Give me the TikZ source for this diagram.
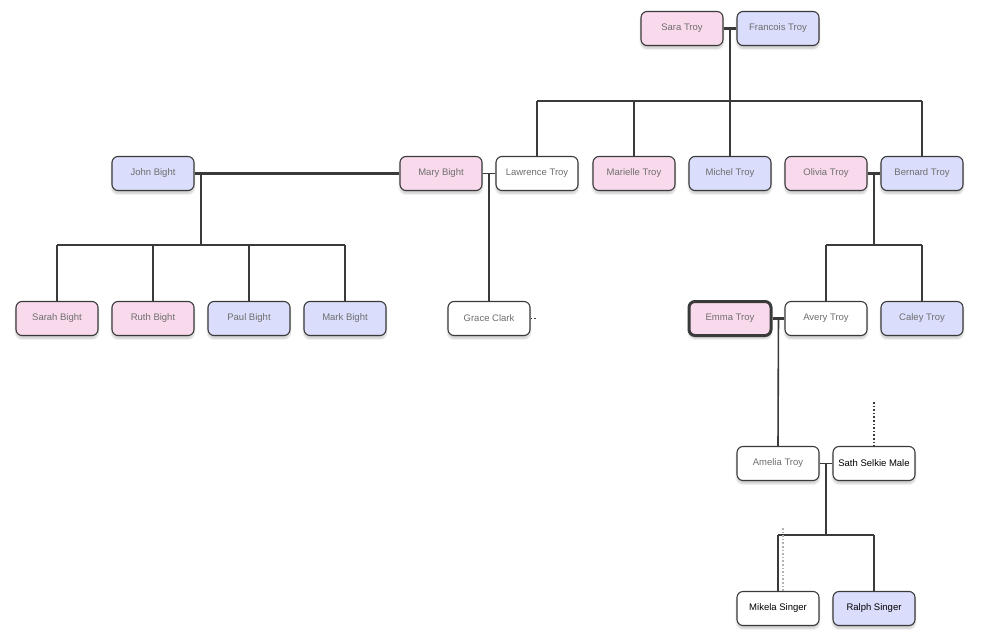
\documentclass[tikz,border=0pt]{standalone}
\usepackage{fontspec}
\setmainfont{Liberation Sans}
\usetikzlibrary{calc, shadows.blur}
\definecolor{pinkfill}{HTML}{F9DAEC}
\definecolor{bluefill}{HTML}{DADDFB}
\definecolor{edgegray}{HTML}{3A3A3A}
\definecolor{textgray}{HTML}{6E6E6E}

\begin{document}
\begin{tikzpicture}[x=1pt, y=-1pt, line join=round, font=\fontsize{9.5}{11}\selectfont,
	person/.style={draw=edgegray, line width=1.1pt, rounded corners=6pt, minimum width=82pt, minimum height=34pt, fill=white, text=textgray,
		blur shadow={shadow xshift=0pt, shadow yshift=-3pt, shadow blur steps=6, shadow opacity=22}},
	female/.style={person, fill=pinkfill},
	male/.style={person, fill=bluefill},
	link/.style={draw=edgegray, line width=1.6pt},
	couple/.style={draw=edgegray, line width=3.2pt},
	hint/.style={draw=edgegray, line width=1.6pt, dotted}]
	\useasboundingbox (0,0) rectangle (1000,642);

	% Thế hệ 1
	\node[female] (sara) at (682,28.5) {Sara Troy};
	\node[male] (francois) at (778,28.5) {Francois Troy};

	% Thế hệ 2
	\node[male] (john) at (153,173.5) {John Bight};
	\node[female] (mary) at (441,173.5) {Mary Bight};
	\node[person] (lawrence) at (537,173.5) {Lawrence Troy};
	\node[female] (marielle) at (634,173.5) {Marielle Troy};
	\node[male] (michel) at (730,173.5) {Michel Troy};
	\node[female] (olivia) at (826,173.5) {Olivia Troy};
	\node[male] (bernard) at (922,173.5) {Bernard Troy};

	% Thế hệ 3
	\node[female] (sarah) at (57,318.5) {Sarah Bight};
	\node[female] (ruth) at (153,318.5) {Ruth Bight};
	\node[male] (paul) at (249,318.5) {Paul Bight};
	\node[male] (mark) at (345,318.5) {Mark Bight};
	\node[person] (grace) at (489,318.5) {Grace Clark};
	\node[female, line width=3pt] (emma) at (730,318.5) {Emma Troy};
	\node[person] (avery) at (826,318.5) {Avery Troy};
	\node[male] (caley) at (922,318.5) {Caley Troy};

	% Thế hệ 4, 5
	\node[person] (amelia) at (778,463.5) {Amelia Troy};
	\node[person, text=black] (sath) at (874,463.5) {Sath Selkie Male};
	\node[person, text=black] (mikela) at (778,608.5) {Mikela Singer};
	\node[male, text=black] (ralph) at (874,608.5) {Ralph Singer};

	% Nhà Troy
	\draw[couple] (sara.east) -- (francois.west);
	\coordinate (troyfam) at (730,101);
	\draw[link] ($(sara.east)!.5!(francois.west)$) -- (troyfam);
	\draw[link] (lawrence.north |- troyfam) -- (bernard.north |- troyfam);
	\foreach \c in {lawrence, marielle, michel, bernard} {
		\draw[link] (\c.north |- troyfam) -- (\c.north);
	}

	% Nhà Bight
	\draw[couple] (john.east) -- (mary.west);
	\coordinate (bightfam) at (201,245);
	\draw[link] (bightfam |- john.east) -- (bightfam);
	\draw[link] (sarah.north |- bightfam) -- (mark.north |- bightfam);
	\foreach \c in {sarah, ruth, paul, mark} {
		\draw[link] (\c.north |- bightfam) -- (\c.north);
	}

	% Mary - Lawrence
	\draw[link] (mary.east) -- (lawrence.west);
	\draw[link] ($(mary.east)!.5!(lawrence.west)$) -- (grace.north);
	\coordinate (graceside) at (537,318.5);
	\draw[hint] (grace.east) -- (graceside);

	% Olivia - Bernard
	\draw[couple] (olivia.east) -- (bernard.west);
	\coordinate (obfam) at (874,245);
	\draw[link] ($(olivia.east)!.5!(bernard.west)$) -- (obfam);
	\draw[link] (avery.north |- obfam) -- (caley.north |- obfam);
	\foreach \c in {avery, caley} {
		\draw[link] (\c.north |- obfam) -- (\c.north);
	}

	% Emma - Avery
	\draw[couple] (emma.east) -- (avery.west);
	\draw[link] ($(emma.east)!.5!(avery.west)$) -- (amelia.north);

	% Amelia - Sath
	\draw[link] (amelia.east) -- (sath.west);
	\coordinate (asfam) at (826,535);
	\draw[link] ($(amelia.east)!.5!(sath.west)$) -- (asfam);
	\draw[link] (mikela.north |- asfam) -- (ralph.north |- asfam);
	\foreach \c in {mikela, ralph} {
		\draw[link] (\c.north |- asfam) -- (\c.north);
	}
	\coordinate (sathup) at (874,402);
	\draw[hint] (sathup) -- (sath.north);
	\coordinate (mikelaup) at (783,528);
	\draw[hint, draw=gray!60, line width=1.2pt] (mikelaup) -- (mikelaup |- mikela.north);
\end{tikzpicture}
\end{document}
